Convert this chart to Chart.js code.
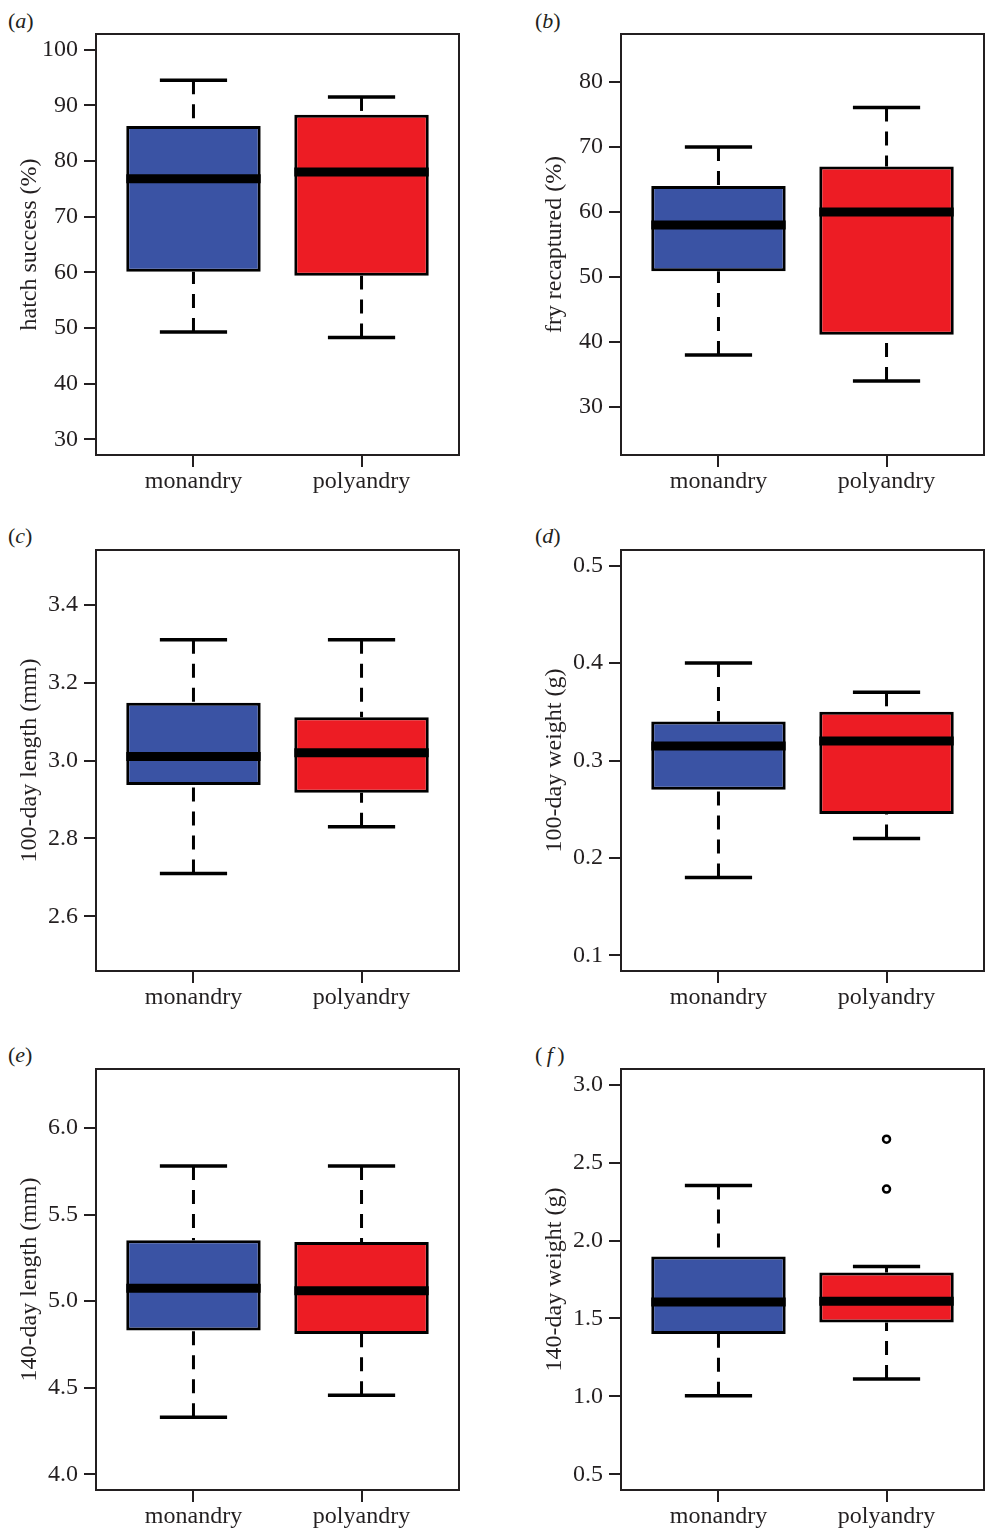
<!DOCTYPE html>
<html>
<head>
<meta charset="utf-8">
<script src="https://cdn.jsdelivr.net/npm/chart.js@4.4.0/dist/chart.umd.min.js"></script>
<style>
  body { margin: 0; background: #fff; width: 985px; height: 1530px; overflow: hidden; position: relative;
         font-family: "Liberation Serif", serif; color: #231f20; }
  .panel { position: absolute; }
  .tag { position: absolute; font-size: 22px; line-height: 1; }
</style>
</head>
<body>
<div class="tag" style="left:8px;top:10px">(<i>a</i>)</div>
<div class="tag" style="left:535px;top:10px">(<i>b</i>)</div>
<div class="tag" style="left:8px;top:525px">(<i>c</i>)</div>
<div class="tag" style="left:535px;top:525px">(<i>d</i>)</div>
<div class="tag" style="left:8px;top:1044px">(<i>e</i>)</div>
<div class="tag" style="left:535px;top:1044px">(&thinsp;<i>f</i>&thinsp;)</div>

<div class="panel" style="left:0;top:0"><canvas id="chartA" width="480" height="500"></canvas></div>
<div class="panel" style="left:525px;top:0"><canvas id="chartB" width="460" height="500"></canvas></div>
<div class="panel" style="left:0;top:516px"><canvas id="chartC" width="480" height="500"></canvas></div>
<div class="panel" style="left:525px;top:516px"><canvas id="chartD" width="460" height="500"></canvas></div>
<div class="panel" style="left:0;top:1035px"><canvas id="chartE" width="480" height="500"></canvas></div>
<div class="panel" style="left:525px;top:1035px"><canvas id="chartF" width="460" height="500"></canvas></div>

<script>
const groups = ['monandry', 'polyandry'];

// five-number summaries: [lower whisker, Q1, median, Q3, upper whisker]
const hatchMono = [49.3, 60.1, 76.8, 86.3, 94.5];
const hatchPoly = [48.3, 59.4, 78.0, 88.3, 91.5];
const fryMono = [38.0, 50.9, 58.0, 64.0, 70.0];
const fryPoly = [34.0, 41.1, 60.0, 67.0, 76.1];
const len100Mono = [2.71, 2.937, 3.01, 3.148, 3.31];
const len100Poly = [2.83, 2.917, 3.02, 3.111, 3.31];
const wt100Mono = [0.18, 0.27, 0.315, 0.34, 0.40];
const wt100Poly = [0.22, 0.245, 0.32, 0.35, 0.37];
const len140Mono = [4.33, 4.83, 5.075, 5.352, 5.78];
const len140Poly = [4.457, 4.81, 5.06, 5.342, 5.78];
const wt140Mono = [1.005, 1.40, 1.606, 1.897, 2.353];
const wt140Poly = [1.112, 1.475, 1.61, 1.795, 1.833];
const wt140PolyOutliers = [2.33, 2.65];

// y tick labels and axis limits
const hatchTicks = [30, 40, 50, 60, 70, 80, 90, 100];
const fryTicks = [30, 40, 50, 60, 70, 80];
const len100Ticks = [2.6, 2.8, 3.0, 3.2, 3.4];
const wt100Ticks = [0.1, 0.2, 0.3, 0.4, 0.5];
const len140Ticks = [4.0, 4.5, 5.0, 5.5, 6.0];
const wt140Ticks = [0.5, 1.0, 1.5, 2.0, 2.5, 3.0];
const hatchLim = [30, 100];
const fryLim = [25, 85];
const len100Lim = [2.5, 3.5];
const wt100Lim = [0.1, 0.5];
const len140Lim = [4.0, 6.25];
const wt140Lim = [0.5, 3.0];

const ink = '#231f20';
const boxColors = ['#3a53a4', '#ed1c24'];
const serif = '"Liberation Serif", serif';

// box outline around the plot area, like R's box()
const framePlugin = {
  id: 'frame',
  afterDraw(chart) {
    const { ctx, chartArea: a } = chart;
    ctx.save();
    ctx.strokeStyle = ink;
    ctx.lineWidth = 2;
    ctx.strokeRect(a.left, a.top, a.right - a.left, a.bottom - a.top);
    ctx.restore();
  }
};

function segment(x1, y1, x2, y2, width, dash, order) {
  return {
    type: 'line',
    data: [{ x: x1, y: y1 }, { x: x2, y: y2 }],
    borderColor: '#000',
    borderWidth: width,
    borderDash: dash,
    borderCapStyle: 'butt',
    pointRadius: 0,
    fill: false,
    order: order
  };
}

function makePanel(id, stats, outliers, ticks, lim, decimals, title, rightPad) {
  const datasets = [];
  stats.forEach((s, i) => {
    datasets.push(segment(i - 0.4, s[2], i + 0.4, s[2], 9, [], 0));        // median
    datasets.push(segment(i, s[4], i, s[3], 3, [14, 10], 2));              // upper whisker
    datasets.push(segment(i, s[0], i, s[1], 3, [14, 10], 2));              // lower whisker
    datasets.push(segment(i - 0.2, s[4], i + 0.2, s[4], 3.5, [], 2));      // upper staple
    datasets.push(segment(i - 0.2, s[0], i + 0.2, s[0], 3.5, [], 2));      // lower staple
  });
  datasets.push({
    type: 'bar',
    data: stats.map((s, i) => ({ x: i, y: [s[1], s[3]] })),
    backgroundColor: boxColors,
    borderColor: '#000',
    borderWidth: 3,
    borderSkipped: false,
    barPercentage: 0.8,
    categoryPercentage: 1,
    order: 1
  });
  outliers.forEach((vals, i) => {
    if (!vals.length) return;
    datasets.push({
      type: 'scatter',
      data: vals.map(v => ({ x: i, y: v })),
      pointRadius: 3.5,
      pointBorderWidth: 2.5,
      pointBackgroundColor: '#fff',
      pointBorderColor: '#000',
      showLine: false,
      order: 0
    });
  });

  const pad = (lim[1] - lim[0]) * 0.04;
  new Chart(document.getElementById(id), {
    type: 'scatter',
    data: { datasets },
    options: {
      responsive: false,
      animation: false,
      events: [],
      layout: { autoPadding: false, padding: { top: 34, right: rightPad, left: 0, bottom: 0 } },
      plugins: { legend: { display: false }, tooltip: { enabled: false } },
      scales: {
        x: {
          type: 'linear',
          min: -0.58,
          max: 1.58,
          offset: false,
          afterBuildTicks: s => { s.ticks = groups.map((g, i) => ({ value: i })); },
          afterFit: s => { s.height = 45; },
          border: { display: false },
          grid: { offset: false, drawOnChartArea: false, drawTicks: true, tickLength: 12, lineWidth: 2, color: ink },
          ticks: { font: { family: serif, size: 24 }, color: ink, padding: 0, maxRotation: 0, autoSkip: false,
                   callback: v => groups[v] }
        },
        y: {
          type: 'linear',
          min: lim[0] - pad,
          max: lim[1] + pad,
          afterBuildTicks: s => { s.ticks = ticks.map(v => ({ value: v })); },
          afterFit: s => { s.width = 96; },
          border: { display: false },
          grid: { drawOnChartArea: false, drawTicks: true, tickLength: 12, lineWidth: 2, color: ink },
          ticks: { font: { family: serif, size: 24 }, color: ink, padding: 6, autoSkip: false,
                   callback: v => v.toFixed(decimals) },
          title: { display: true, text: title, color: ink, font: { family: serif, size: 24 },
                   padding: { top: 15, bottom: 0 } }
        }
      }
    },
    plugins: [framePlugin]
  });
}

makePanel('chartA', [hatchMono, hatchPoly], [[], []], hatchTicks, hatchLim, 0, 'hatch success (%)', 21);
makePanel('chartB', [fryMono, fryPoly], [[], []], fryTicks, fryLim, 0, 'fry recaptured (%)', 1);
makePanel('chartC', [len100Mono, len100Poly], [[], []], len100Ticks, len100Lim, 1, '100-day length (mm)', 21);
makePanel('chartD', [wt100Mono, wt100Poly], [[], []], wt100Ticks, wt100Lim, 1, '100-day weight (g)', 1);
makePanel('chartE', [len140Mono, len140Poly], [[], []], len140Ticks, len140Lim, 1, '140-day length (mm)', 21);
makePanel('chartF', [wt140Mono, wt140Poly], [[], wt140PolyOutliers], wt140Ticks, wt140Lim, 1, '140-day weight (g)', 1);
</script>
</body>
</html>
